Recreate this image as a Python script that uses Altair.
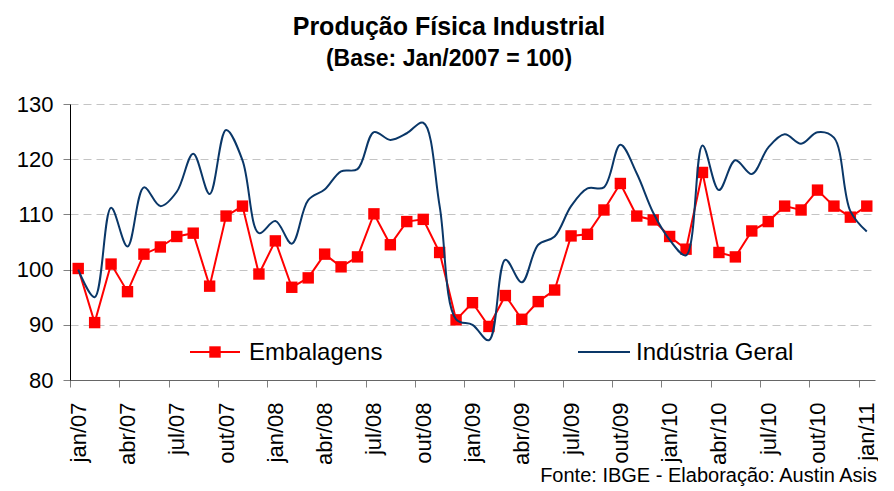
import altair as alt
import pandas as pd

meses = [
    "jan/07", "fev/07", "mar/07", "abr/07", "mai/07", "jun/07", "jul/07", "ago/07", "set/07", "out/07", "nov/07", "dez/07",
    "jan/08", "fev/08", "mar/08", "abr/08", "mai/08", "jun/08", "jul/08", "ago/08", "set/08", "out/08", "nov/08", "dez/08",
    "jan/09", "fev/09", "mar/09", "abr/09", "mai/09", "jun/09", "jul/09", "ago/09", "set/09", "out/09", "nov/09", "dez/09",
    "jan/10", "fev/10", "mar/10", "abr/10", "mai/10", "jun/10", "jul/10", "ago/10", "set/10", "out/10", "nov/10", "dez/10",
    "jan/11",
]

embalagens = [
    100.2, 90.4, 101.0, 96.0, 102.8, 104.1, 106.0, 106.6, 97.0, 109.7, 111.5, 99.2,
    105.2, 96.8, 98.5, 102.8, 100.5, 102.3, 110.1, 104.5, 108.7, 109.1, 103.1, 90.9,
    94.0, 89.7, 95.3, 91.0, 94.2, 96.3, 106.1, 106.4, 110.8, 115.6, 109.7, 109.0,
    106.0, 103.7, 117.6, 103.1, 102.3, 107.0, 108.7, 111.5, 110.8, 114.4, 111.5, 109.5,
    111.5,
]

industria_geral = [
    100.0, 95.0, 111.2, 104.2, 114.9, 111.5, 114.1, 121.0, 113.7, 125.3, 119.8, 106.6,
    108.8, 104.7, 112.6, 114.5, 117.8, 118.2, 124.9, 123.5, 124.7, 126.6, 111.5, 91.0,
    90.0, 87.2, 101.8, 97.7, 104.5, 106.0, 111.5, 114.7, 114.9, 122.6, 117.4, 110.3,
    105.4, 102.6, 122.5, 114.4, 119.8, 117.3, 122.1, 124.5, 122.8, 124.9, 123.9, 110.6,
    106.9,
]

y_ticks = [80, 90, 100, 110, 120, 130]
series_names = ["Embalagens", "Indústria Geral"]
titulo = "Produção Física Industrial"
subtitulo = "(Base: Jan/2007 = 100)"
fonte = "Fonte: IBGE - Elaboração: Austin Asis"

RED = "#ff0000"
NAVY = "#0a3768"
FONT = "Arial"

W, H = 805, 276
step = W / len(meses)

df = pd.DataFrame({"mes": meses, "emb": embalagens, "ind": industria_geral})

x_enc = alt.X(
    "mes:N",
    sort=meses,
    title=None,
    scale=alt.Scale(type="point", padding=0.5),
    axis=alt.Axis(
        values=meses[::3],
        labelAngle=-90,
        labelFont=FONT,
        labelFontSize=22,
        labelColor="#000000",
        labelPadding=15,
        tickOffset=-step / 2,
        labelOffset=step / 2,
        tickSize=7,
        tickColor="#808080",
        domainColor="#666666",
        domainWidth=1,
        grid=False,
    ),
)

y_axis = alt.Axis(
    values=y_ticks,
    labelFont=FONT,
    labelFontSize=22,
    labelColor="#000000",
    labelPadding=10,
    tickSize=7,
    tickColor="#808080",
    domainColor="#000000",
    grid=True,
    gridColor="#c4c4c4",
    gridDash=[8, 5],
    gridWidth=1,
)
y_scale = alt.Scale(domain=[80, 130], nice=False, zero=False)

base = alt.Chart(df)

emb_line = base.mark_line(color=RED, strokeWidth=2).encode(
    x=x_enc, y=alt.Y("emb:Q", title=None, scale=y_scale, axis=y_axis)
)
emb_pts = base.mark_square(color=RED, size=130, opacity=1).encode(
    x=x_enc, y=alt.Y("emb:Q", title=None, scale=y_scale, axis=y_axis)
)
ind_line = base.mark_line(color=NAVY, strokeWidth=2, interpolate="catmull-rom").encode(
    x=x_enc, y=alt.Y("ind:Q", title=None, scale=y_scale, axis=y_axis)
)

# legend (inside plot)
leg_df_e = pd.DataFrame({"s": [series_names[0]]})
leg_df_i = pd.DataFrame({"s": [series_names[1]]})
leg_e_line = alt.Chart(leg_df_e).mark_rule(color=RED, strokeWidth=2).encode(
    x=alt.value(120), x2=alt.value(170), y=alt.value(248)
)
leg_e_sq = alt.Chart(leg_df_e).mark_square(color=RED, size=130, opacity=1).encode(
    x=alt.value(145), y=alt.value(248)
)
leg_e_txt = alt.Chart(leg_df_e).mark_text(
    align="left", baseline="middle", font=FONT, fontSize=24, color="#000000"
).encode(x=alt.value(179), y=alt.value(249), text="s:N")
leg_i_line = alt.Chart(leg_df_i).mark_rule(color=NAVY, strokeWidth=2).encode(
    x=alt.value(508), x2=alt.value(560), y=alt.value(248)
)
leg_i_txt = alt.Chart(leg_df_i).mark_text(
    align="left", baseline="middle", font=FONT, fontSize=24, color="#000000"
).encode(x=alt.value(566), y=alt.value(249), text="s:N")

# titles and source
t1 = alt.Chart(pd.DataFrame({"t": [titulo]})).mark_text(
    align="center", baseline="alphabetic", font=FONT, fontSize=25, fontWeight="bold", color="#000000"
).encode(x=alt.value(379), y=alt.value(-69), text="t:N")
t2 = alt.Chart(pd.DataFrame({"t": [subtitulo]})).mark_text(
    align="center", baseline="alphabetic", font=FONT, fontSize=23, fontWeight="bold", color="#000000"
).encode(x=alt.value(379), y=alt.value(-38), text="t:N")
t3 = alt.Chart(pd.DataFrame({"t": [fonte]})).mark_text(
    align="right", baseline="alphabetic", font=FONT, fontSize=20, color="#000000"
).encode(x=alt.value(807), y=alt.value(378), text="t:N")

chart = alt.layer(
    emb_line, emb_pts, ind_line,
    leg_e_line, leg_e_sq, leg_e_txt, leg_i_line, leg_i_txt,
    t1, t2, t3,
).properties(
    width=W,
    height=H,
    autosize=alt.AutoSizeParams(type="none"),
    padding={"left": 62, "top": 96, "right": 3, "bottom": 110},
    background="#ffffff",
).configure_view(stroke=None)

chart.save("out.html", embed_options={"renderer": "svg", "actions": False})
